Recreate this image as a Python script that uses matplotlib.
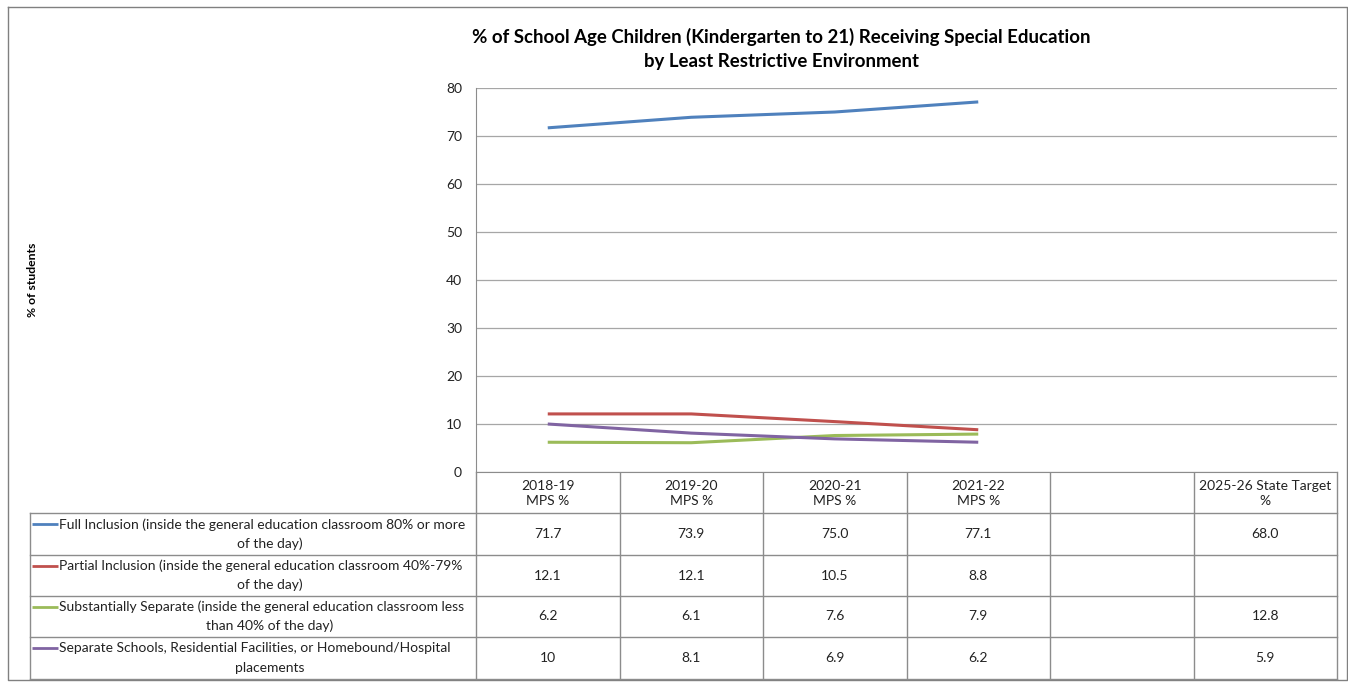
"""Line chart with an attached data table: special education placement rates."""
import matplotlib
matplotlib.use("Agg")
import matplotlib.pyplot as plt
import numpy as np

plt.rcParams["font.family"] = ["Lato", "DejaVu Sans"]

# --- data ---
categories = ["2018-19\nMPS %", "2019-20\nMPS %", "2020-21\nMPS %", "2021-22\nMPS %", "",
              "2025-26 State Target\n%"]
series_names = [
    "Full Inclusion (inside the general education classroom 80% or more\nof the day)",
    "Partial Inclusion (inside the general education classroom 40%-79%\nof the day)",
    "Substantially Separate (inside the general education classroom less\nthan 40% of the day)",
    "Separate Schools, Residential Facilities, or Homebound/Hospital\nplacements",
]
full_inclusion = [71.7, 73.9, 75.0, 77.1, None, 68.0]
partial_inclusion = [12.1, 12.1, 10.5, 8.8, None, None]
substantially_separate = [6.2, 6.1, 7.6, 7.9, None, 12.8]
separate_schools = [10, 8.1, 6.9, 6.2, None, 5.9]
# how each cell is printed in the table
cell_text = [
    ["71.7", "73.9", "75.0", "77.1", "", "68.0"],
    ["12.1", "12.1", "10.5", "8.8", "", ""],
    ["6.2", "6.1", "7.6", "7.9", "", "12.8"],
    ["10", "8.1", "6.9", "6.2", "", "5.9"],
]
colors = ["#4F81BD", "#C0504D", "#9BBB59", "#8064A2"]
series = [full_inclusion, partial_inclusion, substantially_separate, separate_schools]

W, H = 1348, 686
fig = plt.figure(figsize=(W / 100, H / 100), dpi=100)

# plot area in pixel terms
x0, x1, y_top, y_bot = 476, 1337, 88, 472
ax = fig.add_axes([x0 / W, 1 - y_bot / H, (x1 - x0) / W, (y_bot - y_top) / H])
n = len(categories)
xs = np.arange(n)
for vals, c in zip(series, colors):
    y = np.array([np.nan if v is None else v for v in vals], dtype=float)
    ax.plot(xs, y, color=c, lw=2.2, solid_capstyle="butt")
ax.set_xlim(-0.5, n - 0.5)
ax.set_ylim(0, 80)
ax.set_yticks(range(0, 81, 10))
ax.tick_params(axis="y", length=0, pad=10, labelsize=10, colors="#222222")
ax.set_xticks([])
ax.grid(axis="y", color="#A6A6A6", lw=0.9)
ax.set_axisbelow(True)
for side in ("top", "right"):
    ax.spines[side].set_visible(False)
ax.spines["left"].set_color("#8C8C8C")
ax.spines["bottom"].set_color("#8C8C8C")

# overlay in pixel coordinates for the table, border and titles
ov = fig.add_axes([0, 0, 1, 1], zorder=-1)
ov.set_xlim(0, W)
ov.set_ylim(H, 0)
ov.axis("off")

# outer chart border
ov.plot([8, W - 1, W - 1, 8, 8], [7, 7, 680, 680, 7], color="#808080", lw=1)

ov.text(781, 37, "% of School Age Children (Kindergarten to 21) Receiving Special Education",
        ha="center", va="center", fontsize=13.4, fontweight="bold")
ov.text(781, 61, "by Least Restrictive Environment",
        ha="center", va="center", fontsize=13.4, fontweight="bold")
ov.text(32, 280, "% of students", rotation=90, ha="center", va="center",
        fontsize=8.8, fontweight="bold")

# table grid
col_w = (x1 - x0) / n
row_edges = [472, 513, 555, 596, 637, 679]
grid_kw = dict(color="#8C8C8C", lw=1)
for k in range(n + 1):
    xe = x0 + k * col_w
    ov.plot([xe, xe], [row_edges[0], row_edges[-1]], **grid_kw)
ov.plot([30, 30], [row_edges[1], row_edges[-1]], **grid_kw)
for ye in row_edges[1:]:
    ov.plot([30, x1], [ye, ye], **grid_kw)

for k, lab in enumerate(categories):
    ov.text(x0 + (k + 0.5) * col_w, (row_edges[0] + row_edges[1]) / 2 + 1, lab,
            ha="center", va="center", fontsize=10, linespacing=1.3, color="#222222")

for r, (name, c, row) in enumerate(zip(series_names, colors, cell_text)):
    ytop, ybot = row_edges[r + 1], row_edges[r + 2]
    ymid = (ytop + ybot) / 2
    first, second = name.split("\n")
    ov.plot([32, 58], [ymid - 10, ymid - 10], color=c, lw=2, solid_capstyle="butt")
    ov.text(59, ymid - 9.5, first, ha="left", va="center", fontsize=10, color="#222222")
    ov.text(270, ymid + 9.5, second, ha="center", va="center", fontsize=10, color="#222222")
    for k, txt in enumerate(row):
        ov.text(x0 + (k + 0.5) * col_w, ymid, txt, ha="center", va="center",
                fontsize=10, color="#222222")

fig.savefig("out.png", dpi=100)
